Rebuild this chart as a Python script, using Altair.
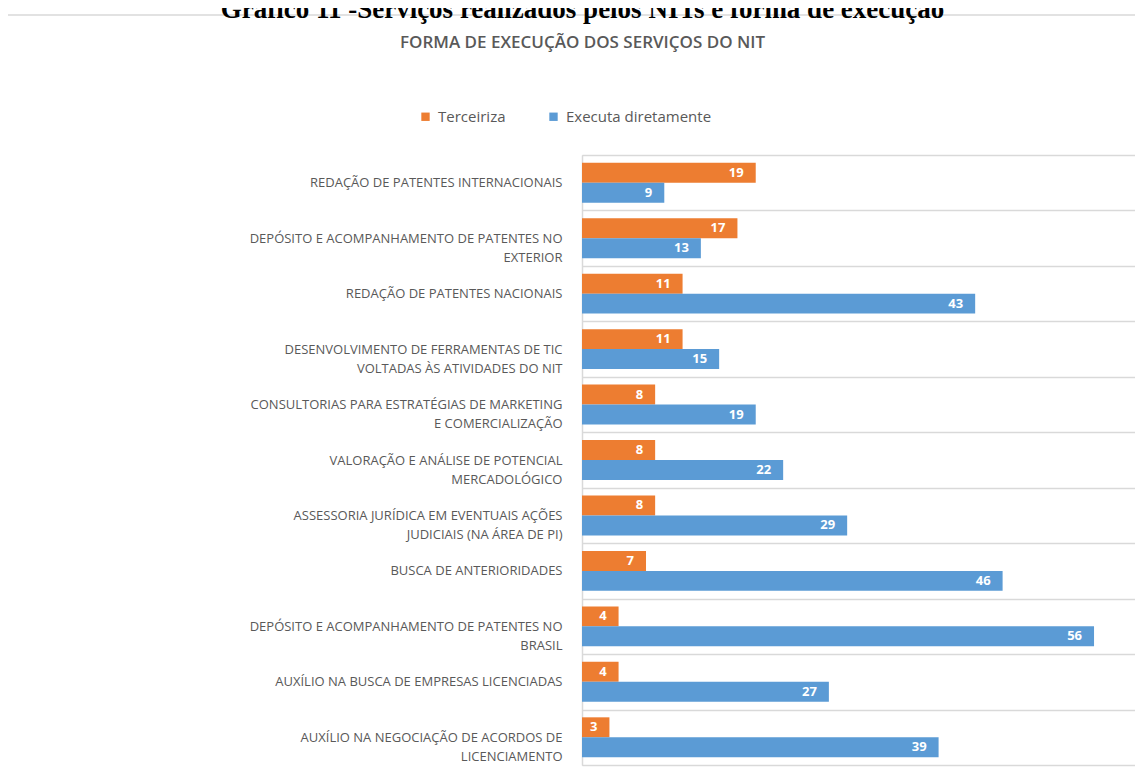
import altair as alt
import pandas as pd

categorias = [
    "REDAÇÃO DE PATENTES INTERNACIONAIS",
    "DEPÓSITO E ACOMPANHAMENTO DE PATENTES NO\nEXTERIOR",
    "REDAÇÃO DE PATENTES NACIONAIS",
    "DESENVOLVIMENTO DE FERRAMENTAS DE TIC\nVOLTADAS ÀS ATIVIDADES DO NIT",
    "CONSULTORIAS PARA ESTRATÉGIAS DE MARKETING\nE COMERCIALIZAÇÃO",
    "VALORAÇÃO E ANÁLISE DE POTENCIAL\nMERCADOLÓGICO",
    "ASSESSORIA JURÍDICA EM EVENTUAIS AÇÕES\nJUDICIAIS (NA ÁREA DE PI)",
    "BUSCA DE ANTERIORIDADES",
    "DEPÓSITO E ACOMPANHAMENTO DE PATENTES NO\nBRASIL",
    "AUXÍLIO NA BUSCA DE EMPRESAS LICENCIADAS",
    "AUXÍLIO NA NEGOCIAÇÃO DE ACORDOS DE\nLICENCIAMENTO",
]
terceiriza = [19, 17, 11, 11, 8, 8, 8, 7, 4, 4, 3]
executa = [9, 13, 43, 15, 19, 22, 29, 46, 56, 27, 39]
series = ["Terceiriza", "Executa diretamente"]
cores = ["#ED7D31", "#5B9BD5"]

rows = []
for c, t, e in zip(categorias, terceiriza, executa):
    rows.append({"servico": c, "serie": series[0], "valor": t})
    rows.append({"servico": c, "serie": series[1], "valor": e})
df = pd.DataFrame(rows)

W = 553
H = 610
GRAY = "#595959"
LINE = "#d9d9d9"

y_enc = alt.Y(
    "servico:N",
    sort=categorias,
    scale=alt.Scale(paddingInner=0, paddingOuter=0),
    axis=alt.Axis(
        title=None,
        labelExpr="split(datum.label, '\\n')",
        labelFont="Open Sans",
        labelFontSize=13,
        labelColor=GRAY,
        labelPadding=20,
        labelLimit=0,
        labelLineHeight=19,
        ticks=False,
        domain=True,
        domainColor=LINE,
        domainWidth=1.5,
        grid=True,
        gridColor=LINE,
        gridWidth=1.5,
        tickBand="extent",
    ),
)
yoff = alt.YOffset(
    "serie:N", sort=series, scale=alt.Scale(paddingInner=0, paddingOuter=0.39)
)
x_enc = alt.X(
    "valor:Q", scale=alt.Scale(domain=[0, 60.48], nice=False), axis=None
)

base = alt.Chart(df)

bars = base.mark_bar().encode(
    x=x_enc,
    y=y_enc,
    yOffset=yoff,
    color=alt.Color(
        "serie:N",
        sort=series,
        scale=alt.Scale(domain=series, range=cores),
        legend=alt.Legend(
            title=None,
            orient="none",
            direction="horizontal",
            legendX=-164,
            legendY=-46,
            symbolType="square",
            symbolSize=70,
            symbolStrokeWidth=0,
            labelFont="Open Sans",
            labelFontSize=15,
            labelColor=GRAY,
            columnPadding=40,
            labelOffset=5,
        ),
    ),
)

labels = base.mark_text(
    align="right",
    baseline="middle",
    dx=-12,
    color="white",
    font="Open Sans",
    fontWeight="bold",
    fontSize=13,
).encode(
    x=x_enc,
    y=alt.Y("servico:N", sort=categorias),
    yOffset=yoff,
    text="valor:Q",
)

frame = alt.Chart(pd.DataFrame({"f": [0]})).mark_rect(
    fill=None, stroke=LINE, strokeWidth=1.5, clip=False
).encode(
    x=alt.value(-577),
    x2=alt.value(W + 20),
    y=alt.value(-140),
    y2=alt.value(H + 60),
)

chart = (
    alt.layer(frame, bars, labels)
    .properties(
        width=W,
        height=H,
        autosize=alt.AutoSizeParams(type="none"),
        padding={"left": 574, "top": 147, "right": 0, "bottom": 3},
        title=alt.TitleParams(
            text="Gráfico 11 -Serviços realizados pelos NITs e forma de execução",
            subtitle="FORMA DE EXECUÇÃO DOS SERVIÇOS DO NIT",
            anchor="middle",
            frame="group",
            dx=-276,
            offset=-38,
            font="Liberation Serif",
            fontSize=27,
            fontWeight="bold",
            color="black",
            subtitleFont="Open Sans",
            subtitleFontSize=17,
            subtitleFontWeight=600,
            subtitleColor=GRAY,
            subtitlePadding=11,
        ),
    )
    .configure_view(stroke=None)
    .configure(background="white")
)

chart.save("out.html", embed_options={"renderer": "svg", "actions": False})
